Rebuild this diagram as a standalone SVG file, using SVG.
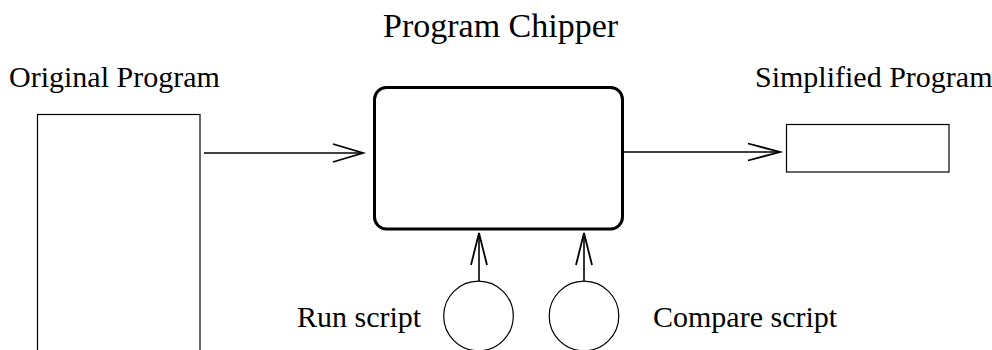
<svg xmlns="http://www.w3.org/2000/svg" width="992" height="350" viewBox="0 0 992 350">
  <style>
    text { font-family: "Liberation Serif", "Times New Roman", serif; font-size: 30px; fill: #000; }
    .title { font-size: 34px; }
    .plain { fill: #fff; stroke: #000; stroke-width: 1.2; }
    .core { fill: #fff; stroke: #000; stroke-width: 3; }
    .wire { fill: none; stroke: #000; stroke-width: 1.6; }
    .head { fill: none; stroke: #000; stroke-width: 1.8; stroke-linejoin: miter; }
  </style>
  <rect width="992" height="350" fill="#fff"/>

  <g id="original-program">
    <text x="9" y="87">Original Program</text>
    <rect class="plain" x="37.5" y="114.5" width="162.5" height="260"/>
  </g>

  <g id="program-chipper">
    <text class="title" x="383" y="37">Program Chipper</text>
    <rect class="core" x="374.5" y="87.5" width="248" height="141.5" rx="12" ry="12"/>
  </g>

  <g id="simplified-program">
    <text x="755" y="87">Simplified Program</text>
    <rect class="plain" x="786.5" y="124.5" width="162.5" height="47.5"/>
  </g>

  <g id="run-script">
    <text x="297" y="327">Run script</text>
    <circle class="plain" cx="478.5" cy="316" r="34.8"/>
  </g>

  <g id="compare-script">
    <text x="653" y="327">Compare script</text>
    <circle class="plain" cx="584" cy="316" r="34.8"/>
  </g>

  <g id="connectors">
    <line class="wire" x1="204" y1="153" x2="362" y2="153"/>
    <polyline class="head" points="333,144 363,153 333,162"/>

    <line class="wire" x1="624" y1="152" x2="779" y2="152"/>
    <polyline class="head" points="748,143.5 780,152 748,160.5"/>

    <line class="wire" x1="479" y1="281" x2="479" y2="234"/>
    <polyline class="head" points="471,265 479,233 487,265"/>

    <line class="wire" x1="584" y1="281" x2="584" y2="234"/>
    <polyline class="head" points="576,265 584,233 592,265"/>
  </g>
</svg>
